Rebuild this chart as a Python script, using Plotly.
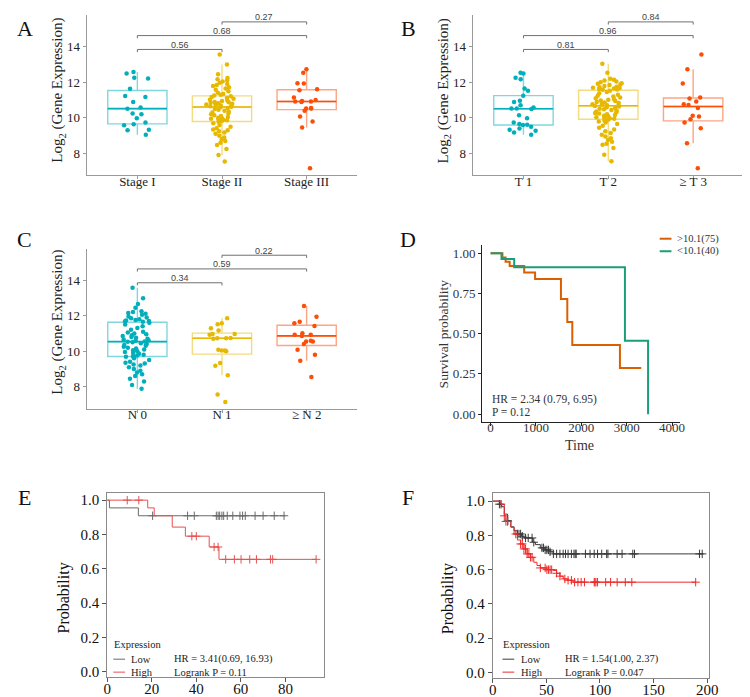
import numpy as np
import plotly.graph_objects as go

W, H = 750, 697
SERIF = "Liberation Serif, Times New Roman, serif"
SANS = "Liberation Sans, Arial, sans-serif"

# ---------------- Panel A : stage ----------------
stage_cats = ["Stage I", "Stage II", "Stage III"]
stage_I = [12.58, 12.49, 12.26, 12.22, 11.64, 11.23, 11.18, 10.90, 10.58, 10.52,
           10.24, 10.21, 9.98, 9.74, 9.64, 9.59, 9.33, 9.31, 9.05]
stage_II = [13.57, 13.01, 12.45, 12.25, 12.18, 12.12, 12.05, 11.98, 11.90, 11.85,
            11.80, 11.72, 11.65, 11.58, 11.50, 11.42, 11.35, 11.30, 11.26,
            11.22, 11.18, 11.12, 11.08, 11.02, 10.98, 10.95, 10.90, 10.88, 10.85,
            10.82, 10.80, 10.78, 10.75, 10.72, 10.70, 10.68, 10.66, 10.63,
            10.60, 10.55, 10.50, 10.45, 10.40, 10.35, 10.30, 10.25, 10.20, 10.15,
            10.10, 10.05, 10.00, 9.98, 9.95, 9.92, 9.90, 9.86, 9.82,
            9.78, 9.70, 9.60, 9.50, 9.42, 9.35, 9.30, 9.25, 9.18, 9.10,
            9.00, 8.90, 8.80, 8.70, 8.60, 8.47, 8.25, 7.91, 7.54]
stage_III = [12.73, 12.54, 11.95, 11.93, 11.61, 11.55, 11.14, 11.01, 10.92, 10.92,
             10.95, 10.90, 10.55, 10.53, 10.53, 10.40, 10.08, 9.80, 9.46, 7.17]
stage_p = ["0.56", "0.68", "0.27"]

# ---------------- Panel B : T ----------------
t_cats = ["T 1", "T 2", "\u2265 T 3"]
t_1 = [12.54, 12.49, 12.26, 12.17, 11.65, 11.52, 11.25, 10.96, 10.90, 10.71,
       10.58, 10.53, 10.53, 10.50, 10.15, 9.98, 9.74, 9.65, 9.62, 9.60,
       9.50, 9.40, 9.33, 9.28, 9.18, 9.05]
t_2 = [13.05, 12.54, 12.20, 12.15, 12.10, 12.05, 12.00, 11.95, 11.92, 11.88,
       11.85, 11.80, 11.75, 11.72, 11.70, 11.68, 11.65, 11.62, 11.60, 11.58,
       11.52, 11.45, 11.38, 11.30, 11.25, 11.20, 11.15, 11.10, 11.05, 11.02,
       10.98, 10.95, 10.90, 10.87, 10.84, 10.80, 10.77, 10.74, 10.71, 10.69,
       10.67, 10.64, 10.60, 10.56, 10.52, 10.48, 10.44, 10.40, 10.36, 10.32,
       10.28, 10.24, 10.20, 10.16, 10.12, 10.08, 10.04, 10.00, 9.97, 9.95,
       9.90, 9.85, 9.80, 9.74, 9.65, 9.55, 9.45, 9.35, 9.25, 9.15,
       9.05, 8.95, 8.85, 8.75, 8.65, 8.55, 8.49, 8.30, 7.93, 7.56]
t_3 = [13.57, 12.73, 11.93, 11.14, 11.09, 10.92, 10.77, 10.73, 10.55, 10.12,
       10.08, 9.92, 9.74, 9.41, 8.57, 7.17]
t_p = ["0.81", "0.96", "0.84"]

# ---------------- Panel C : N ----------------
n_cats = ["N 0", "N 1", "\u2265 N 2"]
n_0 = [13.57, 12.98, 12.65, 12.45, 12.25, 12.20, 12.15, 12.10, 12.05, 11.95,
       11.90, 11.85, 11.80, 11.75, 11.72, 11.70, 11.68, 11.65,
       11.60, 11.50, 11.40, 11.30, 11.20, 11.10, 11.05, 11.00, 10.95, 10.90,
       10.85, 10.80, 10.75, 10.70, 10.66, 10.62, 10.58, 10.55,
       10.53, 10.50, 10.45, 10.40, 10.35, 10.30, 10.25, 10.20, 10.15, 10.10,
       10.05, 10.00, 9.95, 9.90, 9.85, 9.80, 9.76, 9.72,
       9.68, 9.60, 9.50, 9.40, 9.35, 9.30, 9.25, 9.20, 9.10, 9.00,
       8.90, 8.80, 8.70, 8.60, 8.45, 8.30, 8.10, 7.89]
n_1 = [11.85, 11.57, 11.51, 11.29, 11.16, 10.97, 10.97, 10.92, 10.74, 10.73,
       10.73, 10.70, 10.08, 10.04, 10.04, 10.00, 9.33, 9.18, 8.64, 7.56, 7.14]
n_2 = [12.54, 11.94, 11.66, 11.57, 11.42, 11.01, 10.92, 10.92, 10.86, 10.58,
       10.54, 10.54, 10.40, 10.08, 9.80, 9.46, 8.54]
n_p = ["0.34", "0.59", "0.22"]

bracket_pairs = [(0, 1), (0, 2), (1, 2)]
bracket_levels = [13.85, 14.63, 15.40]

# ---------------- Panel D : KM ----------------
d_hi_time = [0, 260, 330, 420, 740, 980, 1550, 1690, 1800, 2850, 3320]
d_hi_surv = [1.0, 0.973, 0.947, 0.92, 0.88, 0.84, 0.716, 0.573, 0.43, 0.287, 0.287]
d_lo_time = [0, 240, 520, 2960, 3470]
d_lo_surv = [1.0, 0.963, 0.913, 0.456, 0.0]
d_labels = [">10.1(75)", "<10.1(40)"]
d_ticks_x = [0, 1000, 2000, 3000, 4000]
d_ticks_y = [0.0, 0.25, 0.50, 0.75, 1.00]

# ---------------- Panel E : KM ----------------
e_lo_time = [0, 1, 14, 80]
e_lo_surv = [1.0, 0.955, 0.909, 0.909]
e_lo_cens = [20.4, 36.1, 39.1, 49.0, 49.8, 50.5, 51.5, 52.3, 53.9, 56.4, 59.6,
             60.8, 62.0, 66.4, 70.0, 75.0, 79.4]
e_hi_time = [0, 18.2, 21.1, 29.2, 35.1, 45.8, 50.2, 93.8]
e_hi_surv = [1.0, 0.955, 0.909, 0.843, 0.790, 0.727, 0.655, 0.655]
e_hi_cens = [9.0, 14.2, 38.0, 40.0, 48.0, 49.8, 53.2, 57.1, 60.1, 64.0, 67.0,
             73.3, 74.3, 93.8]

# ---------------- Panel F : KM ----------------
f_lo_time = [0, 6.1, 8.2, 10.7, 13.7, 16.8, 19.8, 22.9, 26.9, 29.0, 37.2, 39.7,
             44.3, 48.8, 53.4, 56.5, 195.4]
f_lo_surv = [1.0, 0.982, 0.967, 0.924, 0.885, 0.85, 0.827, 0.808, 0.795, 0.785,
             0.76, 0.746, 0.727, 0.715, 0.704, 0.692, 0.692]
f_lo_cens = [6.1, 7.6, 14.0, 22.9, 24.4, 25.9, 27.5, 30.5, 33.0, 36.6, 38.2, 45.8,
             47.3, 48.8, 50.4, 51.9, 53.4, 56.5, 59.5, 62.6, 65.6, 67.8, 70.2,
             73.3, 75.7, 76.9, 77.8, 86.4, 90.7, 94.6, 97.7, 101.6, 106.2, 107.4,
             116.0, 120.6, 130.6, 132.2, 192.9, 195.4]
f_hi_time = [0, 7.6, 10.7, 12.2, 16.8, 19.8, 22.9, 25.9, 29.0, 32.0, 35.1, 38.2,
             41.2, 44.3, 50.4, 56.5, 59.5, 62.6, 65.6, 69.6, 74.8, 189.3]
f_hi_surv = [1.0, 0.98, 0.914, 0.881, 0.847, 0.808, 0.773, 0.75, 0.721, 0.692,
             0.672, 0.643, 0.624, 0.61, 0.60, 0.595, 0.579, 0.562, 0.546, 0.538,
             0.527, 0.527]
f_hi_cens = [10.7, 12.2, 13.7, 21.4, 25.9, 27.5, 29.0, 30.5, 32.0, 33.6, 35.1,
             36.6, 44.3, 48.8, 50.4, 51.9, 53.4, 54.9, 59.5, 62.6, 67.2, 70.2,
             73.3, 76.3, 79.4, 82.4, 85.5, 94.6, 95.2, 96.2, 97.7, 105.3, 109.9,
             116.0, 123.6, 129.7, 189.3]

COLORS3 = ["#00AFBB", "#E7B800", "#FC4E07"]


def rgba(hexc, a):
    hexc = hexc.lstrip("#")
    r, g, b = int(hexc[0:2], 16), int(hexc[2:4], 16), int(hexc[4:6], 16)
    return f"rgba({r},{g},{b},{a})"


def pxx(v):
    return v / W


def pyy(v):
    return 1 - v / H


def names(i):
    return ("x" if i == 1 else f"x{i}", "y" if i == 1 else f"y{i}")


def axkey(i, k):
    return f"{k}axis" if i == 1 else f"{k}axis{i}"


fig = go.Figure()
shapes = []
annos = []


def box_panel(i, cats, groups, pvals):
    xn, yn = names(i)
    for k, (cat, vals, col) in enumerate(zip(cats, groups, COLORS3)):
        fig.add_trace(go.Box(
            x=[cat] * len(vals), y=vals, xaxis=xn, yaxis=yn,
            boxpoints="all", jitter=0.55, pointpos=0, width=0.7, whiskerwidth=0,
            fillcolor="rgba(255,255,255,0)",
            line=dict(color=rgba(col, 0.5), width=1.4),
            marker=dict(color=col, size=4.5, opacity=1),
            hoverinfo="skip", showlegend=False))
        med = float(np.median(vals))
        shapes.append(dict(type="line", xref=xn, yref=yn, x0=k - 0.35, x1=k + 0.35,
                           y0=med, y1=med, line=dict(color=col, width=1.6), layer="above"))
    for (a, b), h, p in zip(bracket_pairs, bracket_levels, pvals):
        for seg in [(a, h - 0.15, a, h), (a, h, b, h), (b, h, b, h - 0.15)]:
            shapes.append(dict(type="line", xref=xn, yref=yn, x0=seg[0], y0=seg[1],
                               x1=seg[2], y1=seg[3], line=dict(color="#707070", width=1)))
        annos.append(dict(x=(a + b) / 2, y=h + 0.26, xref=xn, yref=yn, text=p,
                          showarrow=False, font=dict(family=SANS, size=9, color="#444")))


def surv_at(times, survs, c):
    idx = np.searchsorted(np.array(times), c, side="right") - 1
    return [survs[j] for j in idx]


box_panel(1, stage_cats, [stage_I, stage_II, stage_III], stage_p)
box_panel(2, t_cats, [t_1, t_2, t_3], t_p)
box_panel(3, n_cats, [n_0, n_1, n_2], n_p)

# Panel D
xn, yn = names(4)
fig.add_trace(go.Scatter(x=d_hi_time, y=d_hi_surv, xaxis=xn, yaxis=yn, mode="lines",
                         line=dict(color="#D95F02", width=2, shape="hv"), showlegend=False))
fig.add_trace(go.Scatter(x=d_lo_time, y=d_lo_surv, xaxis=xn, yaxis=yn, mode="lines",
                         line=dict(color="#1B9E77", width=2, shape="hv"), showlegend=False))

# Panel E / F
for i, lo_t, lo_s, lo_c, hi_t, hi_s, hi_c, locol, hicol in [
        (5, e_lo_time, e_lo_surv, e_lo_cens, e_hi_time, e_hi_surv, e_hi_cens, "#6a6a6a", "#e55050"),
        (6, f_lo_time, f_lo_surv, f_lo_cens, f_hi_time, f_hi_surv, f_hi_cens, "#3a3a3a", "#ee2a2a")]:
    xn, yn = names(i)
    for t, s, c, col in [(lo_t, lo_s, lo_c, locol), (hi_t, hi_s, hi_c, hicol)]:
        fig.add_trace(go.Scatter(x=t, y=s, xaxis=xn, yaxis=yn, mode="lines",
                                 line=dict(color=col, width=1, shape="hv"), showlegend=False))
        fig.add_trace(go.Scatter(x=c, y=surv_at(t, s, c), xaxis=xn, yaxis=yn, mode="markers",
                                 marker=dict(symbol="cross-thin", size=6,
                                             line=dict(color=col, width=1)),
                                 showlegend=False))

layout = dict(width=W, height=H, margin=dict(l=0, r=0, t=0, b=0),
              paper_bgcolor="white", plot_bgcolor="white", showlegend=False,
              boxmode="overlay")

panel_dom = {
    1: ((76, 352), (7, 168)),
    2: ((469.3, 746), (7, 168)),
    3: ((76, 352), (241.7, 402.3)),
    4: ((479.3, 681), (238.3, 415.7)),
    5: ((97, 318.3), (486.7, 672.3)),
    6: ((490, 710), (487.3, 672.7)),
}

GRAY = "#9a9a9a"
for i, cats, yr in [(1, stage_cats, [6.77, 15.79]), (2, t_cats, [6.77, 15.79]),
                    (3, n_cats, [6.77, 15.77])]:
    (x0, x1), (y0, y1) = panel_dom[i]
    xn, yn = names(i)
    layout[axkey(i, "x")] = dict(domain=[pxx(x0), pxx(x1)], anchor=yn, type="category",
                                 categoryorder="array", categoryarray=cats,
                                 range=[-0.6, 2.6], showline=True, linecolor=GRAY,
                                 linewidth=1, ticks="outside", ticklen=3, tickcolor=GRAY,
                                 ticklabelstandoff=-9,
                                 showgrid=False, zeroline=False,
                                 tickfont=dict(family=SERIF, size=13, color="#222"))
    layout[axkey(i, "y")] = dict(domain=[pyy(y1), pyy(y0)], anchor=xn, range=yr,
                                 tickvals=[8, 10, 12, 14], showline=True, linecolor=GRAY,
                                 linewidth=1, ticks="outside", ticklen=3, tickcolor=GRAY,
                                 showgrid=False, zeroline=False,
                                 tickfont=dict(family=SERIF, size=13, color="#222"))

(x0, x1), (y0, y1) = panel_dom[4]
layout["xaxis4"] = dict(domain=[pxx(x0), pxx(x1)], anchor="y4", range=[-182, 4180],
                        tickvals=d_ticks_x, showline=True, linecolor="#222", linewidth=1.3,
                        ticks="outside", ticklen=3, tickcolor="#222", showgrid=False,
                        ticklabelstandoff=-10,
                        zeroline=False, tickfont=dict(family=SERIF, size=13, color="#333"))
layout["yaxis4"] = dict(domain=[pyy(y1), pyy(y0)], anchor="x4", range=[-0.048, 1.049],
                        tickvals=d_ticks_y, tickformat=".2f", showline=True, linecolor="#222",
                        linewidth=1.3, ticks="outside", ticklen=3, tickcolor="#222",
                        showgrid=False, zeroline=False,
                        tickfont=dict(family=SERIF, size=13, color="#333"))

for i, xr, yr, dt in [(5, [0, 97.5], [-0.033, 1.044], 20), (6, [0, 201.5], [-0.031, 1.046], 50)]:
    (x0, x1), (y0, y1) = panel_dom[i]
    xn, yn = names(i)
    layout[axkey(i, "x")] = dict(domain=[pxx(x0), pxx(x1)], anchor=yn, range=xr, dtick=dt,
                                 tick0=0, showline=True, mirror=True, linecolor="#8a8a8a",
                                 linewidth=1, ticks="outside", ticklen=4, tickcolor="#555",
                                 ticklabelstandoff=-6,
                                 showgrid=False, zeroline=False,
                                 tickfont=dict(family=SERIF, size=15, color="#111"))
    layout[axkey(i, "y")] = dict(domain=[pyy(y1), pyy(y0)], anchor=xn, range=yr, dtick=0.2,
                                 tick0=0, tickformat=".1f", showline=True, mirror=True,
                                 linecolor="#8a8a8a", linewidth=1, ticks="outside", ticklen=4,
                                 tickcolor="#555", showgrid=False, zeroline=False,
                                 tickfont=dict(family=SERIF, size=15, color="#111"))


def pa(x, y, text, size, color="#111", family=SERIF, xanchor="center", angle=0):
    annos.append(dict(x=pxx(x), y=pyy(y), xref="paper", yref="paper", text=text,
                      showarrow=False, xanchor=xanchor, yanchor="middle", textangle=angle,
                      font=dict(family=family, size=size, color=color)))


# panel letters
for letter, x, y in [("A", 13, 21), ("B", 404, 21), ("C", 13, 232), ("D", 404, 232),
                     ("E", 13, 492), ("F", 404, 492)]:
    pa(x, y, letter, 22, "#111")

ytitle = "Log<sub>2</sub> (Gene Expression)"
pa(47, 83, ytitle, 15, "#222", angle=-90)
pa(440, 83, ytitle, 15, "#222", angle=-90)
pa(47, 316, ytitle, 15, "#222", angle=-90)

pa(440, 327, "Survival probability", 13.5, "#333", angle=-90)
pa(578, 439, "Time", 14, "#333")
pa(486.7, 393, "HR = 2.34 (0.79, 6.95)", 11.5, "#333", xanchor="left")
pa(486.7, 405.5, "P = 0.12", 11.5, "#333", xanchor="left")

# D legend
for (lab, col), y in zip(zip(d_labels, ["#D95F02", "#1B9E77"]), [231.7, 244.3]):
    shapes.append(dict(type="line", xref="paper", yref="paper", x0=pxx(660), x1=pxx(672),
                       y0=pyy(y), y1=pyy(y), line=dict(color=col, width=2)))
    pa(676, y, lab, 10.5, "#333", xanchor="left")

pa(53, 593, "Probability", 16, "#111", angle=-90)
pa(445, 593, "Probability", 16, "#111", angle=-90)

# E / F legends
for lx, hx, hr, lr, locol, hicol in [
        (101.7, 163.3, "HR = 3.41(0.69, 16.93)", "Logrank P = 0.11", "#6a6a6a", "#e55050"),
        (498.3, 561.7, "HR = 1.54(1.00, 2.37)", "Logrank P = 0.047", "#3a3a3a", "#ee2a2a")]:
    pa(lx, 639, "Expression", 10.5, "#222", xanchor="left")
    for y, lab, col in [(654, "Low", locol), (667, "High", hicol)]:
        shapes.append(dict(type="line", xref="paper", yref="paper", x0=pxx(lx + 1.5),
                           x1=pxx(lx + 13.5), y0=pyy(y), y1=pyy(y), line=dict(color=col, width=1)))
        pa(lx + 18, y, lab, 10.5, "#222", xanchor="left")
    pa(hx, 654, hr, 10.5, "#222", xanchor="left")
    pa(hx, 667, lr, 10.5, "#222", xanchor="left")

layout["shapes"] = shapes
layout["annotations"] = annos
fig.update_layout(**layout)
fig.write_html("out.html")
